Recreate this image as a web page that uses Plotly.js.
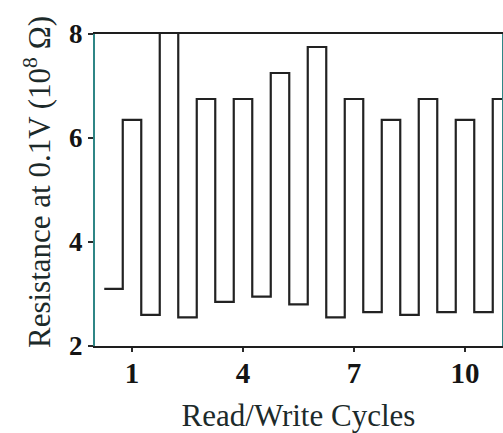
<!DOCTYPE html>
<html>
<head>
<meta charset="utf-8">
<script src="https://cdn.plot.ly/plotly-3.0.1.min.js"></script>
<style>
  html, body { margin: 0; padding: 0; background: #ffffff; }
  #chart { width: 503px; height: 433px; }
</style>
</head>
<body>
<div id="chart"></div>
<script>
// Half-cycle positions: each cycle is read in the high state, then written back low
const halfCycles = [0.5, 1, 1.5, 2, 2.5, 3, 3.5, 4, 4.5, 5, 5.5,
                    6, 6.5, 7, 7.5, 8, 8.5, 9, 9.5, 10, 10.5, 11];
// Resistance read at 0.1 V, in units of 10^8 ohm
const resistance = [3.1, 6.35, 2.6, 8.6, 2.55, 6.75, 2.85, 6.75, 2.95, 7.25, 2.8,
                    7.75, 2.55, 6.75, 2.65, 6.35, 2.6, 6.75, 2.65, 6.35, 2.65, 6.75];
// Axis ticks
const xTicks = [1, 4, 7, 10];
const yTicks = [2, 4, 6, 8];

// Each state is held for half a cycle, so pad the step ends by a quarter cycle
const half = 0.25;
const xs = [halfCycles[0] - half, ...halfCycles, halfCycles[halfCycles.length - 1] + half];
const ys = [resistance[0], ...resistance, resistance[resistance.length - 1]];

const serif = 'Liberation Serif, Times New Roman, serif';

const trace = {
  x: xs,
  y: ys,
  type: 'scatter',
  mode: 'lines',
  line: { shape: 'hvh', color: '#222222', width: 2.2 },
  hoverinfo: 'skip',
  showlegend: false
};

const layout = {
  width: 503,
  height: 433,
  margin: { l: 95, r: 1, t: 34, b: 87 },
  paper_bgcolor: '#ffffff',
  plot_bgcolor: '#ffffff',
  showlegend: false,
  xaxis: {
    range: [0, 11],
    tickvals: xTicks,
    ticktext: xTicks.map(String),
    ticks: 'outside',
    ticklen: 4,
    tickwidth: 2,
    tickcolor: '#2a2a2a',
    ticklabelstandoff: -4,
    showline: true,
    mirror: true,
    linecolor: '#1e1e1e',
    linewidth: 2,
    showgrid: false,
    zeroline: false,
    automargin: false,
    tickfont: { family: serif, size: 29, color: '#141414', weight: 'bold' },
    title: {
      text: 'Read/Write Cycles',
      font: { family: serif, size: 31, color: '#1c2a2a' },
      standoff: 21
    }
  },
  yaxis: {
    range: [2, 8],
    tickvals: yTicks,
    ticktext: yTicks.map(String),
    ticks: 'outside',
    ticklen: 5,
    tickwidth: 2,
    tickcolor: '#2a2a2a',
    showline: true,
    mirror: true,
    linecolor: '#2f8686',
    linewidth: 2,
    showgrid: false,
    zeroline: false,
    automargin: false,
    tickfont: { family: serif, size: 27, color: '#141414', weight: 'bold' }
  },
  // Vertical axis label, placed slightly above the plot centre
  annotations: [{
    text: 'Resistance at 0.1V (10<sup>8</sup> \u03A9)',
    textangle: -90,
    xref: 'paper',
    yref: 'paper',
    x: -0.143,
    y: 0.525,
    xanchor: 'center',
    yanchor: 'middle',
    showarrow: false,
    font: { family: serif, size: 31, color: '#1c2a2a' }
  }]
};

Plotly.newPlot('chart', [trace], layout, { staticPlot: true, displayModeBar: false });
</script>
</body>
</html>
